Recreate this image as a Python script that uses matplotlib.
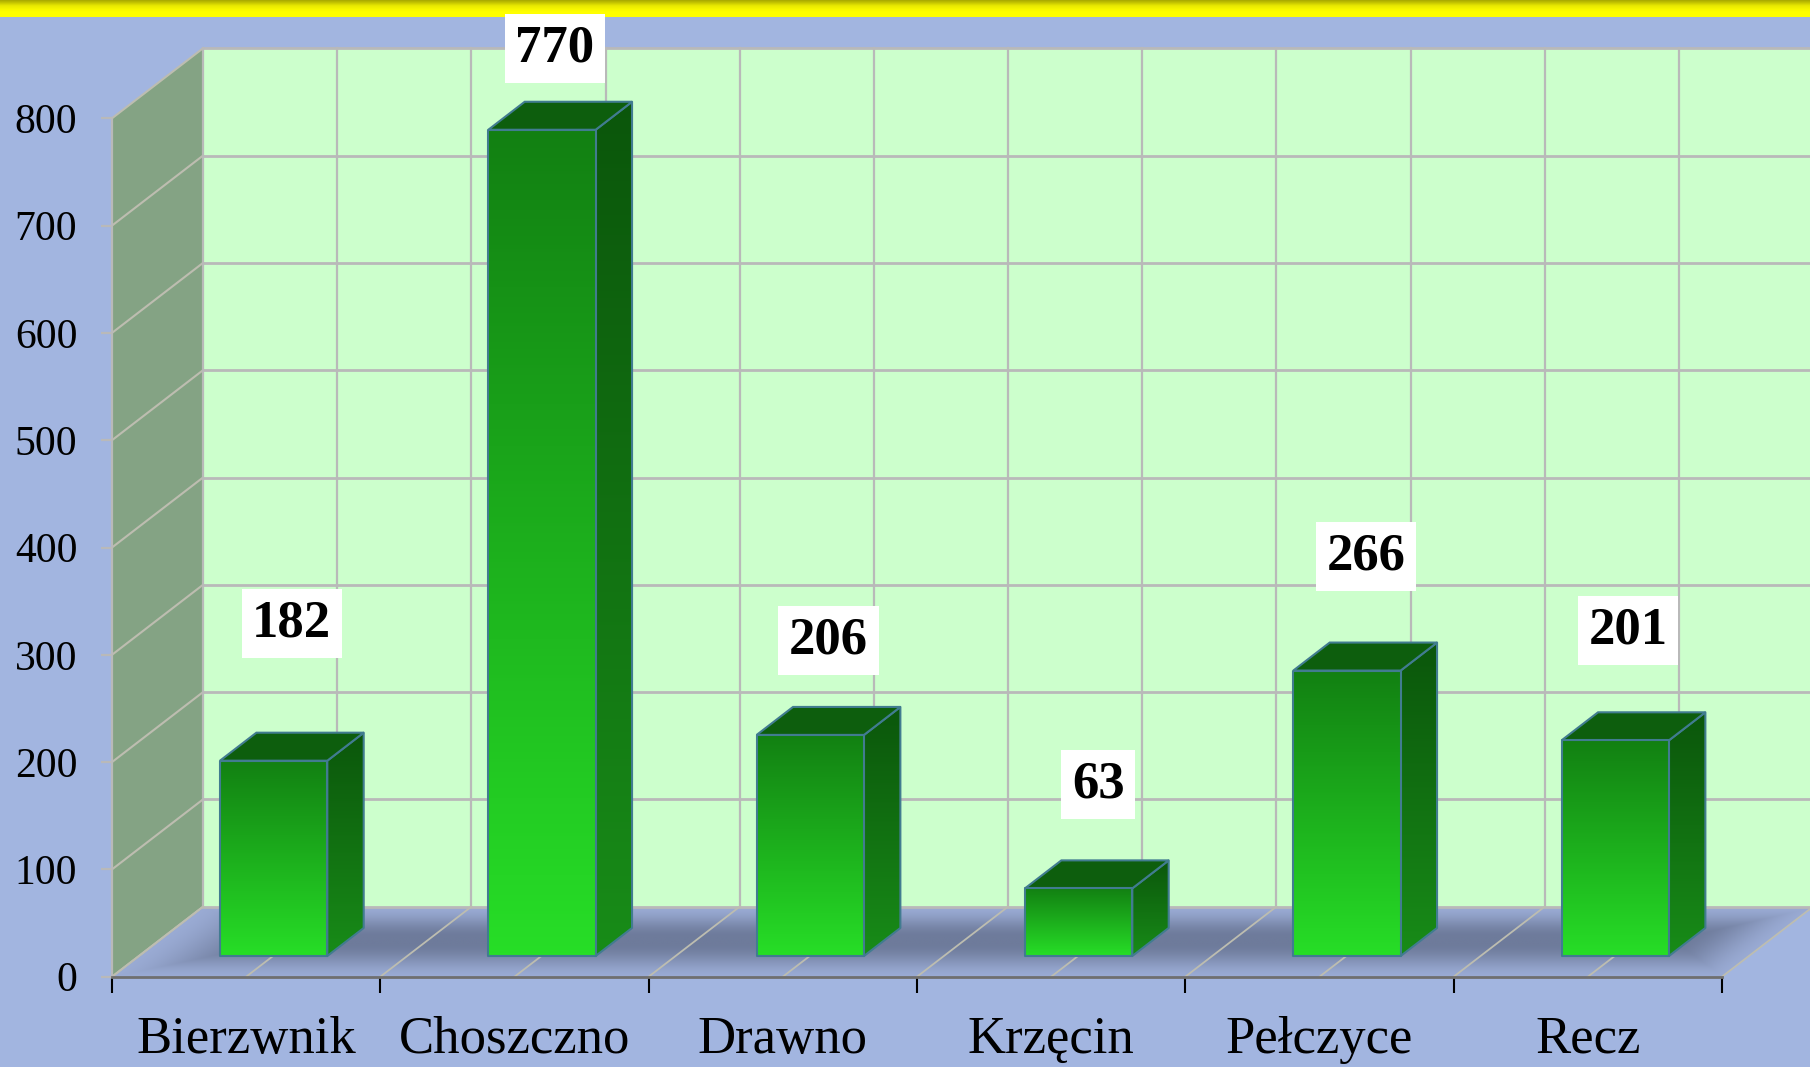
import numpy as np
import matplotlib; matplotlib.use('Agg')
import matplotlib.pyplot as plt
from matplotlib.colors import LinearSegmentedColormap as LSC
from matplotlib.patches import Polygon

plt.rcParams['font.family'] = ['Liberation Serif', 'DejaVu Serif']

gminy   = ['Bierzwnik', 'Choszczno', 'Drawno', 'Krzęcin', 'Pełczyce', 'Recz']
values  = [182, 770, 206, 63, 266, 201]
y_ticks = [0, 100, 200, 300, 400, 500, 600, 700, 800]

# where the boxed labels sit, relative to the bar (they were placed by hand)
label_lift = [147, 95, 107, 116, 126, 122]
label_dx   = [0.17, 0.15, 0.17, 0.175, 0.175, 0.15]

W, H = 1810, 1067
X0, X1, Y0, Y1 = 112, 1722, 976.7, 118.3   # front plane in pixels
DX = 91 / ((X1 - X0) / 6)                  # oblique depth in data units
DY = 70 / ((Y0 - Y1) / 800)
BAR_W, D0, D1 = 0.40, 0.296, 0.696

BG, WALL, SIDE = '#A2B5E0', '#CCFFCC', '#84A384'
GRID, EDGE = '#B9B9B9', '#417C90'


def proj(c, v, d=0.0):
    return c + d * DX, v + d * DY


def grad_face(ax, pts, top, bottom, z):
    # vertical gradient clipped to a polygon
    pts = np.array(pts)
    cmap = LSC.from_list('f', [top, bottom])
    im = ax.imshow(np.linspace(0, 1, 256).reshape(-1, 1), cmap=cmap, aspect='auto', origin='upper',
                   extent=(pts[:, 0].min(), pts[:, 0].max(), pts[:, 1].min(), pts[:, 1].max()), zorder=z)
    clip = Polygon(pts, transform=ax.transData)
    im.set_clip_box(ax.figure.bbox)
    im.set_clip_path(clip)
    ax.add_patch(Polygon(pts, closed=True, fill=False, ec=EDGE, lw=1.5, zorder=z + 0.1,
                         clip_on=False, joinstyle='round'))


fig = plt.figure(figsize=(W / 100, H / 100), dpi=100, facecolor=BG)

# yellow band on top
band = fig.add_axes([0, 1 - 17 / H, 1, 17 / H], zorder=0)
band.imshow(np.linspace(0, 1, 64).reshape(-1, 1), aspect='auto',
            cmap=LSC.from_list('y', ['#A8A800', '#E8E800', '#FFFF00', '#FFFF00']))
band.axis('off')

ax = fig.add_axes([X0 / W, 1 - Y0 / H, (X1 - X0) / W, (Y0 - Y1) / H], zorder=1)
ax.patch.set_visible(False)
ax.set_xlim(0, 6)
ax.set_ylim(0, 800)
ax.set_autoscale_on(False)
for s in ax.spines.values():
    s.set_visible(False)

# back wall, left wall
ax.add_patch(Polygon([proj(0, 0, 1), proj(6, 0, 1), proj(6, 800, 1), proj(0, 800, 1)],
                     fc=WALL, ec='none', zorder=1, clip_on=False))
ax.add_patch(Polygon([proj(0, 0), proj(0, 0, 1), proj(0, 800, 1), proj(0, 800)],
                     fc=SIDE, ec='none', zorder=1, clip_on=False))

# floor, dark in the middle and fading out to the edges
vv, uu = np.meshgrid(np.linspace(1, 0, 160), np.linspace(0, 6 + DX, 900), indexing='ij')
uu = uu - vv * DX
edge = np.minimum.reduce([(vv + 0.02) / 0.5, (1.02 - vv) / 0.45, (uu + 0.02) / 0.45, (6.02 - uu) / 0.35])
edge = np.clip(edge, 0, 1)
edge = edge * edge * (3 - 2 * edge)
floor_cmap = LSC.from_list('fl', ['#9AABD4', '#6E7B9B'])
fim = ax.imshow(edge, cmap=floor_cmap, vmin=0, vmax=1, aspect='auto', zorder=1.2,
                extent=(0, 6 + DX, 0, DY))
fim.set_clip_box(fig.bbox)
fim.set_clip_path(Polygon([proj(0, 0), proj(6, 0), proj(6, 0, 1), proj(0, 0, 1)], transform=ax.transData))

# grid
for v in y_ticks:
    x, y = proj(0, v, 1)
    ax.plot([x, proj(6, v, 1)[0]], [y, y], color=GRID, lw=2.0, zorder=1.5, clip_on=False)
    ax.plot(*zip(proj(0, v), proj(0, v, 1)), color='#BDBDB0', lw=1.5, zorder=1.5, clip_on=False)
for c in np.arange(0, 6.5, 0.5):
    ax.plot(*zip(proj(c, 0, 1), proj(c, 800, 1)), color=GRID, lw=1.6, zorder=1.5, clip_on=False)
    ax.plot(*zip(proj(c, 0), proj(c, 0, 1)), color='#BDBDB0', lw=1.3, zorder=1.5, clip_on=False)
ax.plot(*zip(proj(0, 0), proj(0, 800)), color=GRID, lw=1.6, zorder=1.6, clip_on=False)
ax.plot(*zip(proj(0, 0), proj(6, 0)), color='#6F6F6F', lw=2.0, zorder=1.7, clip_on=False)

# bars
for i, val in enumerate(values):
    c0 = i + 0.5 + D0 * DX - BAR_W / 2 + 0.002
    c1 = c0 + BAR_W
    base = D0 * DY
    top = base + val
    d = D1 - D0
    z = 3 + i
    grad_face(ax, [(c1, base), (c1 + d * DX, base + d * DY), (c1 + d * DX, top + d * DY), (c1, top)],
              '#0B560B', '#188C18', z)
    ax.add_patch(Polygon([(c0, top), (c1, top), (c1 + d * DX, top + d * DY), (c0 + d * DX, top + d * DY)],
                         fc='#0D5E0D', ec=EDGE, lw=1.5, zorder=z + 0.2, clip_on=False))
    grad_face(ax, [(c0, base), (c1, base), (c1, top), (c0, top)], '#128012', '#27DE27', z + 0.3)
    ax.text(i + 0.5 + label_dx[i], val + label_lift[i], str(val), fontsize=38, fontweight='bold',
            ha='center', va='center', color='black', zorder=20, clip_on=False,
            bbox=dict(fc='white', ec='none', boxstyle='square,pad=0.2'))

# axes
ax.set_yticks(y_ticks)
ax.tick_params(axis='y', length=8, width=1.6, color=GRID, labelsize=30, pad=17, labelcolor='black')
ax.set_xticks(range(7))
ax.set_xticklabels([])
ax.tick_params(axis='x', which='major', length=11.5, width=1.5, color='black')
ax.set_xticks(np.arange(6) + 0.5, minor=True)
ax.set_xticklabels(gminy, minor=True)
ax.tick_params(axis='x', which='minor', length=0, labelsize=38, pad=28)

fig.savefig('out.png', dpi=100, facecolor=fig.get_facecolor())
